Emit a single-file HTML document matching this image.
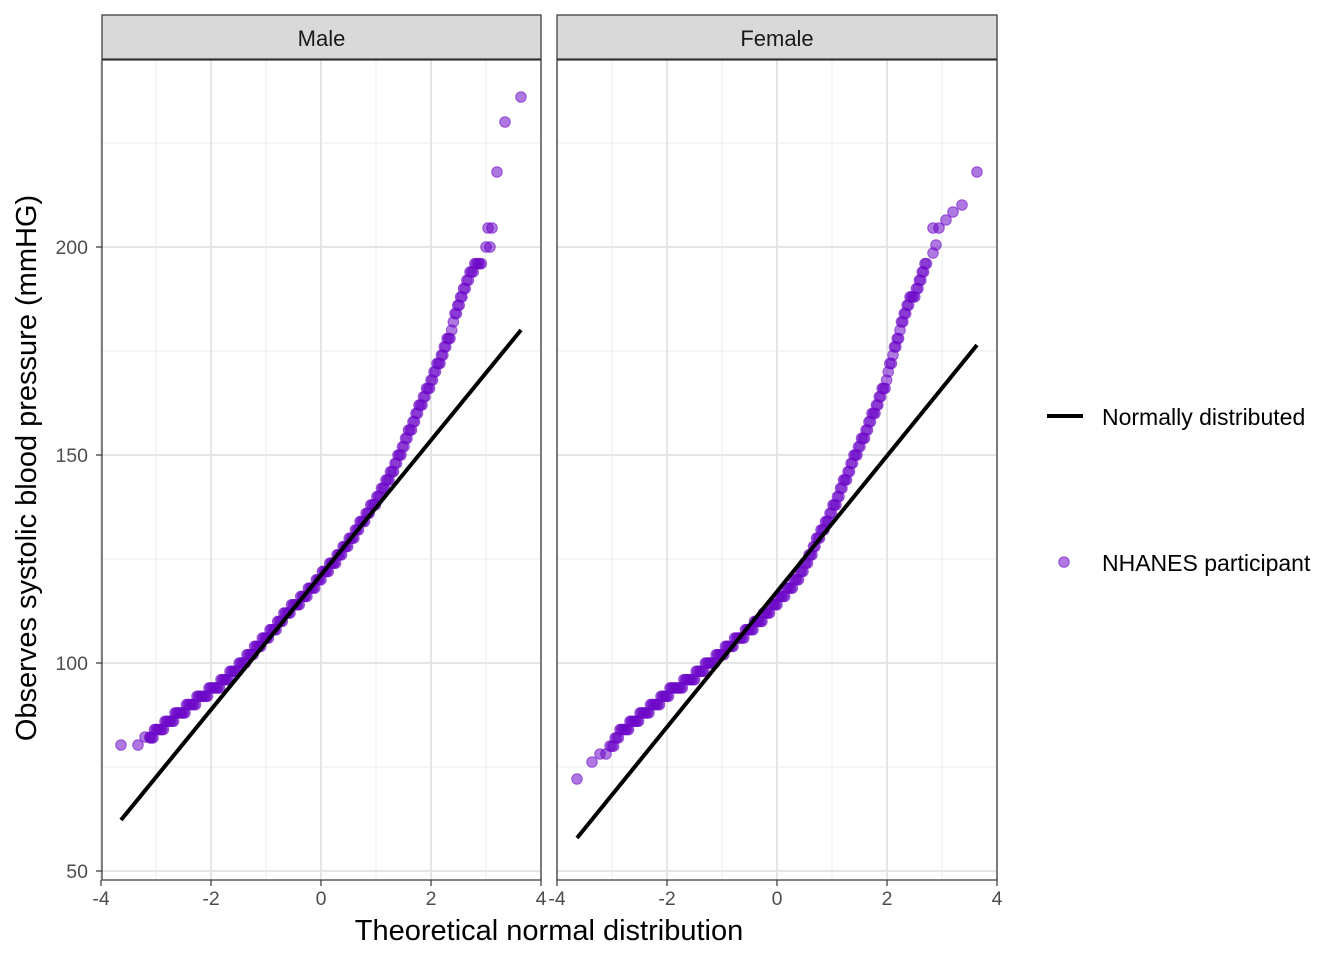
<!DOCTYPE html>
<html><head><meta charset="utf-8"><style>
body{margin:0;background:#fff;}
svg{display:block;font-family:"Liberation Sans",Arial,sans-serif;}
</style></head><body>
<svg id="s" width="1344" height="960" viewBox="0 0 1344 960" xmlns="http://www.w3.org/2000/svg">
<g id="g"></g>
</svg>
<script>
const NS="http://www.w3.org/2000/svg";
const g=document.getElementById('g');
function el(t,a,txt){const e=document.createElementNS(NS,t);for(const k in a)e.setAttribute(k,a[k]);if(txt!==undefined)e.textContent=txt;g.appendChild(e);return e;}
const Y=v=>663-(v-100)*4.16;
const PF='rgb(110,10,200)';
function pt(x,y){el('circle',{cx:x,cy:y,r:5.3,fill:PF,'fill-opacity':0.55,stroke:PF,'stroke-opacity':0.6,'stroke-width':1});}
const panels=[{x0:102,x1:541,c:321,name:"Male",
line:[121,820,521,330],
pts:[[150,737],[165,725],[175,717],[185,709],[200,697],[215,688],[230,675],[250,655],[270,633],[290,610],[310,590],[321,577],[340,555],[360,525],[380,495],[395,465],[410,430],[425,395],[440,360],[450,335],[455,315],[462,297],[470,275],[478,262],[483,262]],
extra:[[121,745],[138,745],[145,737],[150,737],[488,228],[492,228],[486,247],[490,247],[497,172],[505,122],[521,97]]},
{x0:557,x1:997,c:777,name:"Female",
line:[577,838,977,345],
pts:[[612,746],[620,733],[630,725],[640,717],[655,705],[670,692],[690,680],[710,663],[730,645],[750,630],[765,615],[777,602],[800,575],[815,545],[830,515],[845,480],[860,445],[875,410],[885,385],[893,355],[900,330],[910,300],[918,288],[925,265],[928,255]],
extra:[[577,779],[592,762],[600,754],[606,754],[610,746],[933,253],[936,245],[933,228],[939,228],[946,220],[953,212],[962,205],[977,172]]}];
for(const p of panels){
  const top=60,bot=880;
  el('rect',{x:p.x0,y:top,width:p.x1-p.x0,height:bot-top,fill:'#fff'});
  for(const v of [75,125,175,225]) el('line',{x1:p.x0,x2:p.x1,y1:Y(v),y2:Y(v),stroke:'#ebebeb','stroke-width':1});
  for(const u of [-3,-1,1,3]){const x=p.c+u*55;el('line',{x1:x,x2:x,y1:top,y2:bot,stroke:'#ebebeb','stroke-width':1});}
  for(const v of [50,100,150,200]) el('line',{x1:p.x0,x2:p.x1,y1:Y(v),y2:Y(v),stroke:'#e5e5e5','stroke-width':2});
  for(const u of [-4,-2,0,2,4]){const x=p.c+u*55;el('line',{x1:x,x2:x,y1:top,y2:bot,stroke:'#e5e5e5','stroke-width':2});}
  const P=p.pts;
  for(let i=0;i<P.length-1;i++){
    const [ax,ay]=P[i],[bx,by]=P[i+1];const n=Math.max(1,Math.round(Math.abs(bx-ax)/1.5));
    for(let k=0;k<n;k++){const t=k/n;let y=ay+(by-ay)*t;
      const v=100+(663-y)/4.16;const vq=Math.round(v/2)*2;pt(ax+(bx-ax)*t,663-(vq-100)*4.16);}
  }
  for(const [x,y] of p.extra) pt(x,y);
  const L=p.line;
  el('line',{x1:L[0],y1:L[1],x2:L[2],y2:L[3],stroke:'#000','stroke-width':4});
  el('rect',{x:p.x0,y:top,width:p.x1-p.x0,height:bot-top,fill:'none',stroke:'#333','stroke-width':1.2});
  el('rect',{x:p.x0,y:15,width:p.x1-p.x0,height:44,fill:'#d9d9d9',stroke:'#333','stroke-width':1.2});
  el('text',{x:(p.x0+p.x1)/2,y:46,'text-anchor':'middle','font-size':22,fill:'#1a1a1a'},p.name);
  for(const u of [-4,-2,0,2,4]){const x=p.c+u*55;el('line',{x1:x,x2:x,y1:bot,y2:bot+6,stroke:'#333','stroke-width':1.2});
    el('text',{x:x,y:905,'text-anchor':'middle','font-size':19.5,fill:'#4d4d4d'},String(u));}
}
for(const v of [50,100,150,200]){el('line',{x1:96,x2:102,y1:Y(v),y2:Y(v),stroke:'#333','stroke-width':1.2});
  el('text',{x:88,y:Y(v)+7,'text-anchor':'end','font-size':19.5,fill:'#4d4d4d'},String(v));}
el('text',{x:549,y:940,'text-anchor':'middle','font-size':29,fill:'#000'},'Theoretical normal distribution');
el('text',{x:0,y:0,'text-anchor':'middle','font-size':29,fill:'#000',transform:'translate(36,468) rotate(-90)'},'Observes systolic blood pressure (mmHG)');
el('line',{x1:1047,x2:1083,y1:416,y2:416,stroke:'#000','stroke-width':4});
el('text',{x:1102,y:425,'font-size':23,fill:'#000'},'Normally distributed');
pt(1064,562);
el('text',{x:1102,y:571,'font-size':23,fill:'#000'},'NHANES participant');
</script>
</body></html>
